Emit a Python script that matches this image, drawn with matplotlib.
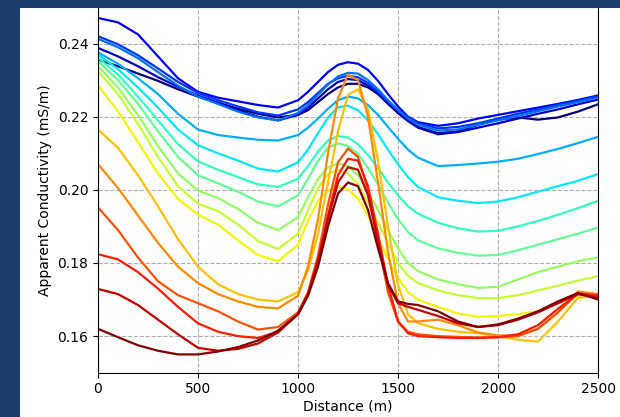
import matplotlib
matplotlib.use("Agg")
import matplotlib.pyplot as plt
from matplotlib.patches import Rectangle

# Distance along the profile (m)
distance = [0, 100, 200, 300, 400, 500, 600, 700, 800, 900, 1000,
            1050, 1100, 1150, 1200, 1250, 1300, 1350, 1400, 1450, 1500, 1550,
            1600, 1700, 1800, 1900, 2000, 2100, 2200, 2300, 2400, 2500]

# Apparent conductivity profiles (mS/m), one per curve, colour index = order
profiles = [
    [.2356, .2338, .2318, .2298, .2275, .2255, .2238, .2222, .2208, .2198, .2205,
     .2218, .2240, .2262, .2280, .2290, .2290, .2280, .2262, .2238, .2212, .2190,
     .2172, .2155, .2160, .2178, .2192, .2198, .2192, .2198, .2214, .2234],
    [.2388, .2365, .2338, .2308, .2282, .2258, .2238, .2218, .2200, .2190, .2205,
     .2225, .2250, .2275, .2295, .2303, .2300, .2285, .2262, .2235, .2210, .2188,
     .2170, .2152, .2158, .2170, .2182, .2195, .2208, .2220, .2234, .2247],
    [.2470, .2458, .2425, .2365, .2305, .2268, .2252, .2242, .2232, .2225, .2245,
     .2268, .2295, .2322, .2342, .2349, .2345, .2328, .2298, .2262, .2228, .2200,
     .2185, .2175, .2182, .2195, .2205, .2215, .2225, .2235, .2246, .2258],
    [.2420, .2398, .2368, .2332, .2295, .2265, .2245, .2228, .2212, .2203, .2220,
     .2240, .2265, .2290, .2305, .2312, .2308, .2292, .2268, .2242, .2218, .2198,
     .2182, .2168, .2172, .2182, .2195, .2208, .2220, .2232, .2244, .2255],
    [.2413, .2390, .2360, .2322, .2285, .2255, .2235, .2214, .2198, .2190, .2210,
     .2232, .2260, .2288, .2310, .2320, .2318, .2300, .2275, .2245, .2218, .2195,
     .2178, .2162, .2165, .2178, .2190, .2202, .2215, .2228, .2240, .2252],
    [.2376, .2345, .2305, .2262, .2208, .2165, .2150, .2143, .2137, .2135, .2150,
     .2170, .2195, .2222, .2245, .2255, .2250, .2232, .2205, .2172, .2140, .2110,
     .2088, .2065, .2068, .2072, .2077, .2085, .2098, .2112, .2128, .2145],
    [.2370, .2330, .2280, .2225, .2165, .2122, .2100, .2080, .2058, .2050, .2075,
     .2110, .2155, .2198, .2226, .2230, .2218, .2190, .2152, .2110, .2070, .2035,
     .2008, .1980, .1970, .1964, .1968, .1980, .1995, .2010, .2025, .2043],
    [.2362, .2315, .2255, .2190, .2125, .2078, .2055, .2035, .2015, .2008, .2030,
     .2065, .2105, .2135, .2147, .2143, .2125, .2095, .2060, .2020, .1985, .1955,
     .1935, .1910, .1895, .1886, .1888, .1900, .1915, .1932, .1950, .1970],
    [.2352, .2300, .2235, .2160, .2090, .2040, .2018, .1995, .1968, .1955, .1985,
     .2030, .2080, .2115, .2127, .2120, .2098, .2060, .2015, .1965, .1920, .1885,
     .1862, .1840, .1828, .1820, .1822, .1835, .1850, .1865, .1880, .1897],
    [.2338, .2280, .2205, .2120, .2045, .1998, .1978, .1948, .1910, .1890, .1925,
     .1980, .2030, .2062, .2072, .2065, .2040, .1995, .1945, .1890, .1840, .1800,
     .1778, .1755, .1742, .1732, .1735, .1755, .1775, .1790, .1805, .1815],
    [.2325, .2262, .2180, .2090, .2010, .1962, .1942, .1905, .1860, .1838, .1880,
     .1945, .2005, .2042, .2055, .2045, .2015, .1965, .1910, .1855, .1800, .1765,
     .1745, .1725, .1712, .1704, .1704, .1712, .1725, .1738, .1752, .1764],
    [.2285, .2215, .2130, .2045, .1975, .1932, .1905, .1862, .1822, .1805, .1850,
     .1915, .1970, .1998, .2008, .2002, .1975, .1930, .1870, .1810, .1760, .1720,
     .1700, .1680, .1662, .1653, .1655, .1660, .1668, .1690, .1712, .1715],
    [.2165, .2115, .2040, .1955, .1865, .1790, .1742, .1715, .1700, .1695, .1720,
     .1780, .1880, .2020, .2160, .2260, .2275, .2220, .2080, .1900, .1740, .1660,
     .1635, .1620, .1612, .1608, .1600, .1590, .1585, .1640, .1705, .1710],
    [.2070, .2005, .1930, .1855, .1790, .1745, .1715, .1695, .1680, .1676, .1710,
     .1790, .1920, .2100, .2250, .2315, .2300, .2200, .2020, .1830, .1690, .1640,
     .1640, .1645, .1630, .1610, .1602, .1602, .1620, .1665, .1722, .1715],
    [.1952, .1890, .1815, .1750, .1712, .1690, .1668, .1640, .1618, .1625, .1665,
     .1720, .1820, .1960, .2075, .2113, .2090, .2000, .1860, .1720, .1640, .1612,
     .1605, .1600, .1598, .1596, .1597, .1600, .1620, .1665, .1718, .1710],
    [.1824, .1810, .1775, .1730, .1680, .1635, .1612, .1600, .1595, .1612, .1660,
     .1715, .1810, .1930, .2040, .2085, .2080, .2010, .1880, .1740, .1640, .1608,
     .1600, .1597, .1595, .1595, .1597, .1605, .1630, .1675, .1715, .1712],
    [.1729, .1715, .1685, .1645, .1605, .1568, .1560, .1565, .1580, .1610, .1660,
     .1715, .1805, .1920, .2020, .2062, .2055, .1985, .1860, .1740, .1690, .1680,
     .1672, .1655, .1635, .1625, .1630, .1645, .1665, .1690, .1715, .1705],
    [.1620, .1597, .1575, .1560, .1550, .1550, .1558, .1570, .1588, .1615, .1660,
     .1710, .1790, .1900, .1990, .2020, .2010, .1945, .1840, .1745, .1695, .1688,
     .1685, .1668, .1640, .1625, .1632, .1648, .1668, .1695, .1718, .1700],
]

W, H = 620, 417
fig = plt.figure(figsize=(W / 100, H / 100), dpi=100)
fig.patch.set_facecolor("#1c3e6c")
# white panel of the screenshot
fig.patches.append(Rectangle((20 / W, 0), 1 - 20 / W, 1 - 8 / H, transform=fig.transFigure,
                             facecolor="white", edgecolor="none", zorder=-1))

ax = fig.add_axes([98 / W, (H - 372.7) / H, 500 / W, (372.7 - 7) / H])
cmap = plt.get_cmap("jet")
n = len(profiles)
for i, p in enumerate(profiles):
    ax.plot(distance, p, color=cmap(i / (n - 1)), lw=1.6)

ax.set_xlim(0, 2500)
ax.set_ylim(0.15, 0.25)
ax.set_xticks([0, 500, 1000, 1500, 2000, 2500])
ax.set_yticks([0.16, 0.18, 0.20, 0.22, 0.24])
ax.grid(True, ls="--", color="#b0b0b0", lw=0.8)
ax.set_xlabel("Distance (m)", fontsize=10, labelpad=2)
ax.set_ylabel("Apparent Conductivity (mS/m)", fontsize=10)
ax.tick_params(labelsize=10)

# top strip of the dark frame covers the axes top
fig.patches.append(Rectangle((0, 1 - 8 / H), 1, 8 / H, transform=fig.transFigure,
                             facecolor="#1c3e6c", edgecolor="none", zorder=5))

fig.savefig("out.png", dpi=100, facecolor=fig.get_facecolor())
